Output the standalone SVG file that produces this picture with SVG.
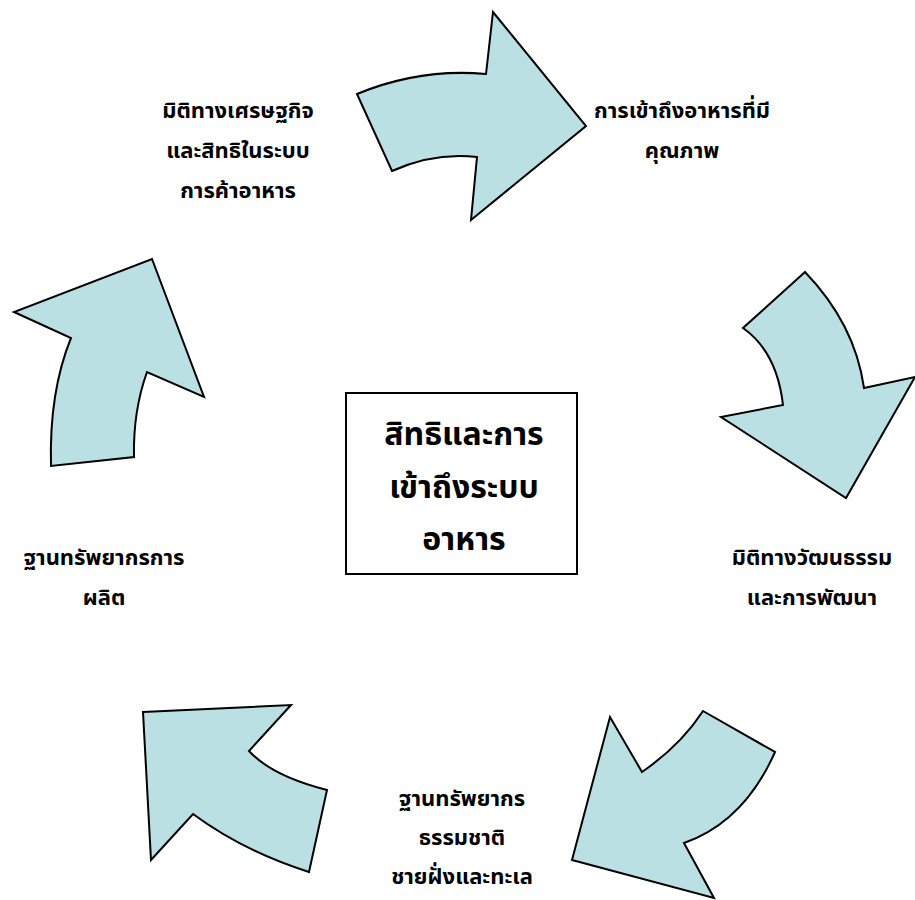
<svg xmlns="http://www.w3.org/2000/svg" width="915" height="900" viewBox="0 0 915 900">
<style>
.arr{fill:#bbe0e3;stroke:#000;stroke-width:2;stroke-linejoin:miter}
.lbl{font-family:"Noto Sans Thai","Tahoma","DejaVu Sans","Noto Sans",sans-serif;font-weight:bold;font-size:22px;fill:#000;text-anchor:middle}
.ctr{font-family:"Noto Sans Thai","Tahoma","DejaVu Sans","Noto Sans",sans-serif;font-weight:bold;font-size:32px;fill:#000;text-anchor:middle}
</style>
<rect width="915" height="900" fill="#fff"/>
<g id="connectors">
<path id="arrow-top" class="arr" d="M357,94 Q420,68 486,74 L493,12 L586,126 L471,220 L477,157 Q434,152 392,171 Z"/>
<path id="arrow-right" class="arr" d="M805,272 L743,328 Q777,352 783,405 L721,417 L846,498 L915,377 L864,388 Q855,324 805,272 Z"/>
<path id="arrow-bottom-right" class="arr" d="M703,711 L775,752 Q744,822 684,843 L714,898 L572,860 L610,717 L642,772 Q681,745 703,711 Z"/>
<path id="arrow-bottom-left" class="arr" d="M143,712 L291,705 L249,751 Q272,776 327,790 L309,872 Q243,851 193,814 L151,860 Z"/>
<path id="arrow-left" class="arr" d="M152,259 L204,397 L147,372 Q133,411 134,457 L51,466 Q49,392 71,338 L14,312 Z"/>
</g>
<g id="center">
<rect x="346" y="393" width="231" height="181" fill="#fff" stroke="#000" stroke-width="2"/>
<text class="ctr" x="464" y="445">สิทธิและการ</text>
<text class="ctr" x="464" y="498">เข้าถึงระบบ</text>
<text class="ctr" x="464" y="550">อาหาร</text>
</g>
<g id="node-economic">
<text class="lbl" x="238" y="118">มิติทางเศรษฐกิจ</text>
<text class="lbl" x="238" y="158">และสิทธิในระบบ</text>
<text class="lbl" x="238" y="198">การค้าอาหาร</text>
</g>
<g id="node-access">
<text class="lbl" x="682" y="118">การเข้าถึงอาหารที่มี</text>
<text class="lbl" x="682" y="158">คุณภาพ</text>
</g>
<g id="node-culture">
<text class="lbl" x="812" y="565">มิติทางวัฒนธรรม</text>
<text class="lbl" x="812" y="605">และการพัฒนา</text>
</g>
<g id="node-production">
<text class="lbl" x="104" y="565">ฐานทรัพยากรการ</text>
<text class="lbl" x="104" y="605">ผลิต</text>
</g>
<g id="node-coastal">
<text class="lbl" x="462" y="806">ฐานทรัพยากร</text>
<text class="lbl" x="462" y="845">ธรรมชาติ</text>
<text class="lbl" x="462" y="884">ชายฝั่งและทะเล</text>
</g>
</svg>
